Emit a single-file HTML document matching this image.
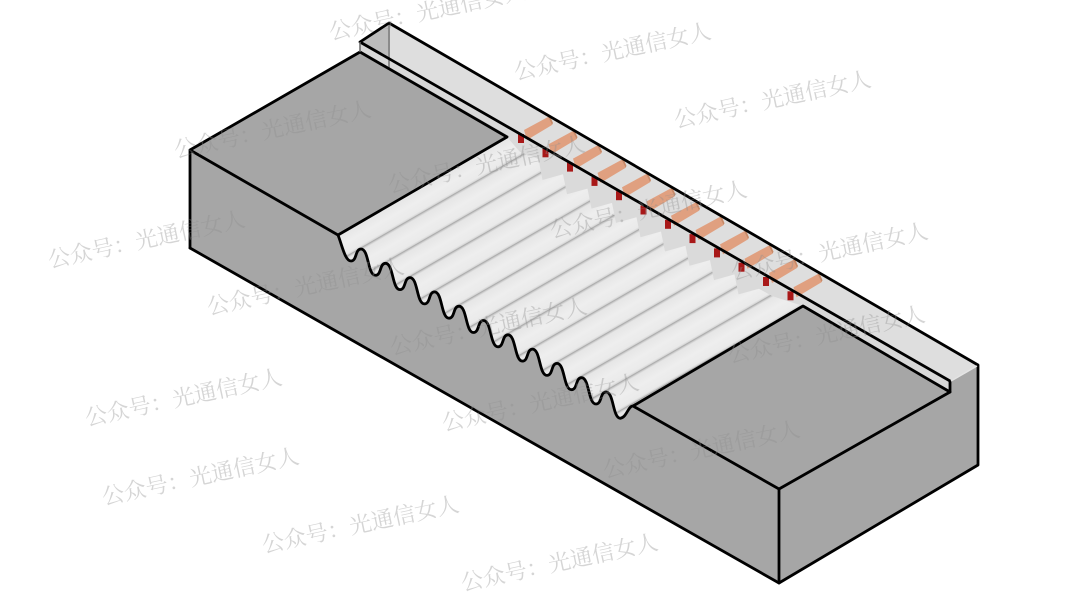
<!DOCTYPE html>
<html><head><meta charset="utf-8">
<style>html,body{margin:0;padding:0;background:#fff;width:1080px;height:607px;overflow:hidden}svg{display:block}
text{font-family:"Liberation Serif","Noto Serif CJK SC",serif;font-size:22.3px;fill:rgba(140,140,140,.37);text-anchor:middle}</style>
</head><body>
<svg width="1080" height="607" viewBox="0 0 1080 607" xmlns="http://www.w3.org/2000/svg">
<defs>
<linearGradient id="rid" gradientUnits="userSpaceOnUse" x1="376" y1="267.600" x2="388.300" y2="288.900" spreadMethod="repeat">
<stop offset="0" stop-color="#a6a6a6"/><stop offset=".04" stop-color="#c8c8c8"/><stop offset=".1" stop-color="#e6e6e6"/><stop offset=".5" stop-color="#eeeeee"/><stop offset=".9" stop-color="#eaeaea"/><stop offset=".97" stop-color="#d6d6d6"/><stop offset="1" stop-color="#a6a6a6"/>
</linearGradient>
<filter id="b" x="-5%" y="-5%" width="110%" height="110%"><feGaussianBlur stdDeviation=".35"/></filter>
<g id="bar">
<polygon points="524,130 548,117 552,125 527,140" fill="#e0a080"/>
<polygon points="548,117 550,116 553,123 552,125" fill="#c98a68"/>
<rect x="518" y="134" width="6" height="9" fill="#a81818"/>
</g>
</defs>
<!-- back wall -->
<polygon points="360,42 389,23 978,365 950,381" fill="#dedede"/>
<polygon points="360,42 389,23 389,68 360,52" fill="#bcbcbc"/>
<polygon points="360,42 950,381 950,392 360,52" fill="#d8d8d8"/>
<line x1="360" y1="52" x2="950" y2="392" stroke="#b5b5b5" stroke-width="3"/>
<line x1="389" y1="23" x2="389" y2="68" stroke="#8a8a8a" stroke-width="2"/>
<!-- corrugated region -->
<polygon points="507,137 520,134 815,304 803,306 633,406 338,235" fill="#dadada"/>
<path d="M338,235 L507,137 L520,152 L538.500,159 L542.500,180 L563,174.300 L567,194.300 L587.500,188.600 L591.500,208.600 L612,202.900 L616,222.900 L636.500,217.200 L640.500,237.200 L661,231.500 L665,251.500 L685.500,245.800 L689.500,265.800 L710,260.100 L714,280.100 L734.500,274.400 L738.500,294.400 L759,288.700 L772,296 L803,306 L633,406 L633,425 L338,260 Z" fill="url(#rid)" filter="url(#b)"/>
<!-- front face -->
<path d="M190,150 L338,235 C342,245 345,261 351,261 c6,0 4,-12 10,-12 c8,0 6.500,26.300 14.500,26.300 c6,0 4,-12 10,-12 c8,0 6.500,26.300 14.500,26.300 c6,0 4,-12 10,-12 c8,0 6.500,26.300 14.500,26.300 c6,0 4,-12 10,-12 c8,0 6.500,26.300 14.500,26.300 c6,0 4,-12 10,-12 c8,0 6.500,26.300 14.500,26.300 c6,0 4,-12 10,-12 c8,0 6.500,26.300 14.500,26.300 c6,0 4,-12 10,-12 c8,0 6.500,26.300 14.500,26.300 c6,0 4,-12 10,-12 c8,0 6.500,26.300 14.500,26.300 c6,0 4,-12 10,-12 c8,0 6.500,26.300 14.500,26.300 c6,0 4,-12 10,-12 c8,0 6.500,26.300 14.500,26.300 c6,0 4,-12 10,-12 c8,0 6.500,26.300 14.500,26.300 C627,417 628,406 633,406 L779,489 L779,583 L190,248 Z" fill="#a6a6a6"/>
<!-- platforms -->
<polygon points="190,150 360,52 507,137 338,235" fill="#a6a6a6"/>
<polygon points="633,406 803,306 950,392 779,489" fill="#a6a6a6"/>
<!-- right face -->
<polygon points="779,489 950,392 950,381 978,365 978,465 779,583" fill="#a6a6a6"/>
<!-- copper bars + red pads -->
<use href="#bar"/>
<use href="#bar" transform="translate(24.500,14.300)"/>
<use href="#bar" transform="translate(49,28.600)"/>
<use href="#bar" transform="translate(73.500,42.900)"/>
<use href="#bar" transform="translate(98,57.200)"/>
<use href="#bar" transform="translate(122.500,71.500)"/>
<use href="#bar" transform="translate(147,85.800)"/>
<use href="#bar" transform="translate(171.500,100.100)"/>
<use href="#bar" transform="translate(196,114.400)"/>
<use href="#bar" transform="translate(220.500,128.700)"/>
<use href="#bar" transform="translate(245,143)"/>
<use href="#bar" transform="translate(269.500,157.300)"/>
<!-- outlines -->
<g fill="none" stroke="#000" stroke-width="2.800" stroke-linejoin="round" stroke-linecap="round">
<path d="M338,235 C342,245 345,261 351,261 c6,0 4,-12 10,-12 c8,0 6.500,26.300 14.500,26.300 c6,0 4,-12 10,-12 c8,0 6.500,26.300 14.500,26.300 c6,0 4,-12 10,-12 c8,0 6.500,26.300 14.500,26.300 c6,0 4,-12 10,-12 c8,0 6.500,26.300 14.500,26.300 c6,0 4,-12 10,-12 c8,0 6.500,26.300 14.500,26.300 c6,0 4,-12 10,-12 c8,0 6.500,26.300 14.500,26.300 c6,0 4,-12 10,-12 c8,0 6.500,26.300 14.500,26.300 c6,0 4,-12 10,-12 c8,0 6.500,26.300 14.500,26.300 c6,0 4,-12 10,-12 c8,0 6.500,26.300 14.500,26.300 c6,0 4,-12 10,-12 c8,0 6.500,26.300 14.500,26.300 c6,0 4,-12 10,-12 c8,0 6.500,26.300 14.500,26.300 C627,417 628,406 633,406"/>
<path d="M190,248 L190,150 L360,52 L507,137 L338,235 L190,150"/>
<path d="M190,248 L779,583 L978,465 L978,365 L389,23 L360,42 L950,381 L950,392"/>
<path d="M633,406 L803,306 L950,392 L779,489 L633,406"/>
<path d="M779,489 L779,583"/>
</g>
<line x1="360" y1="42" x2="360" y2="52" stroke="#666" stroke-width="1.500"/>
<line x1="951" y1="381" x2="977" y2="366" stroke="#e4e4e4" stroke-width="1.500"/>
<!-- watermarks -->
<text transform="translate(429,19) rotate(-12)">公众号：光通信女人</text>
<text transform="translate(614,59) rotate(-12)">公众号：光通信女人</text>
<text transform="translate(774,107) rotate(-12)">公众号：光通信女人</text>
<text transform="translate(274,137) rotate(-12)">公众号：光通信女人</text>
<text transform="translate(488,172) rotate(-12)">公众号：光通信女人</text>
<text transform="translate(650,217) rotate(-12)">公众号：光通信女人</text>
<text transform="translate(828,342) rotate(-12)">公众号：光通信女人</text>
<text transform="translate(148,247) rotate(-12)">公众号：光通信女人</text>
<text transform="translate(307,294) rotate(-12)">公众号：光通信女人</text>
<text transform="translate(490,334) rotate(-12)">公众号：光通信女人</text>
<text transform="translate(831,259) rotate(-12)">公众号：光通信女人</text>
<text transform="translate(185,405) rotate(-12)">公众号：光通信女人</text>
<text transform="translate(542,410) rotate(-12)">公众号：光通信女人</text>
<text transform="translate(703,457) rotate(-12)">公众号：光通信女人</text>
<text transform="translate(202,484) rotate(-12)">公众号：光通信女人</text>
<text transform="translate(362,532) rotate(-12)">公众号：光通信女人</text>
<text transform="translate(561,570) rotate(-12)">公众号：光通信女人</text>
</svg>
</body></html>
